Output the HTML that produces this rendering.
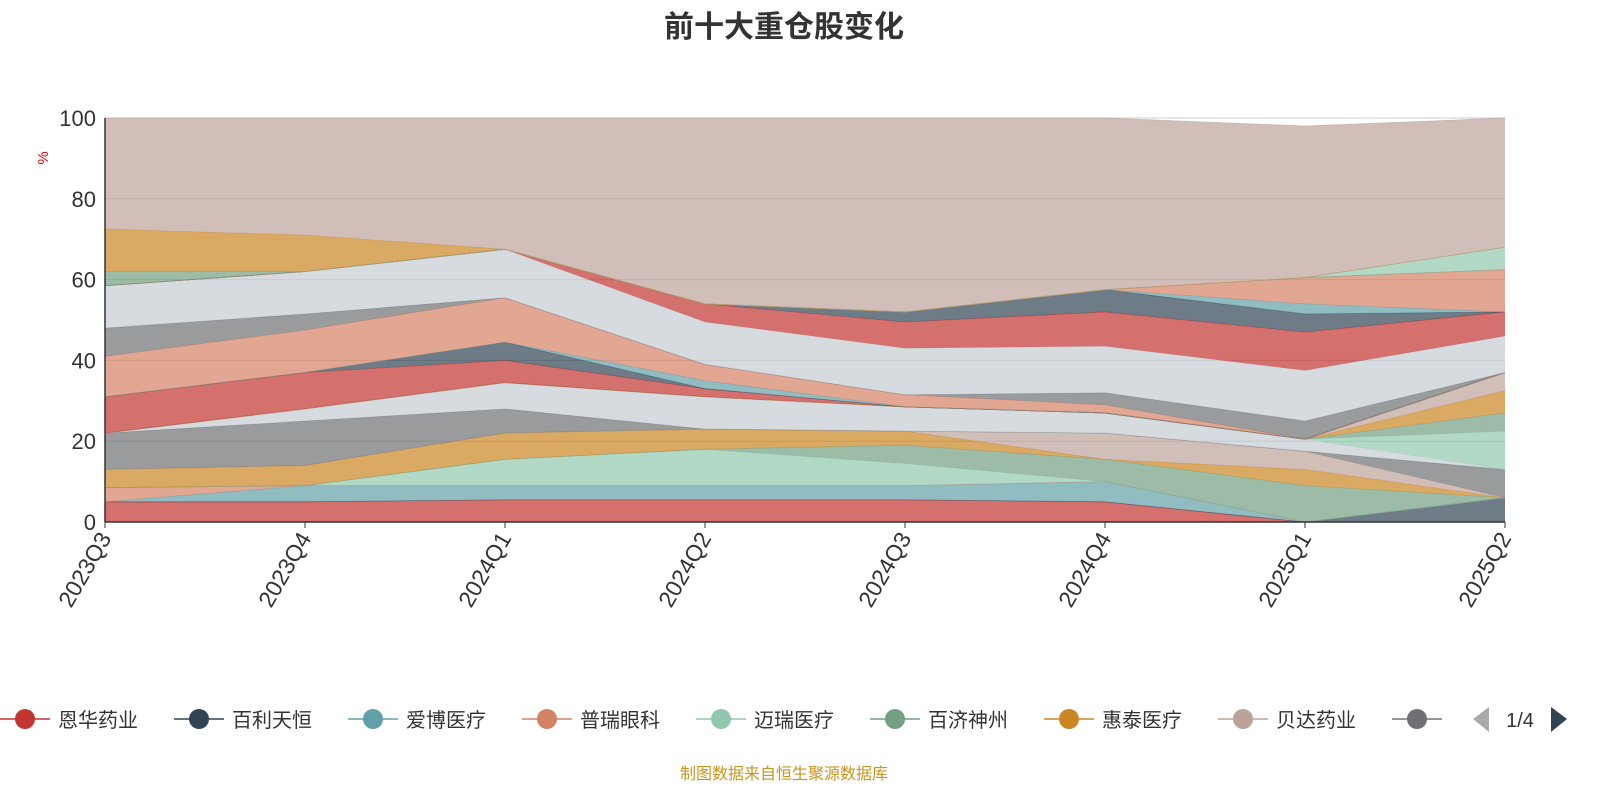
<!DOCTYPE html>
<html><head><meta charset="utf-8"><style>
body{margin:0;background:#fff;font-family:"Liberation Sans","Noto Sans CJK SC",sans-serif}
svg text{font-family:"Liberation Sans","Noto Sans CJK SC",sans-serif}
</style></head><body>
<svg id="chart" width="1600" height="800" xmlns="http://www.w3.org/2000/svg">
<text x="784" y="37" text-anchor="middle" font-size="30" font-weight="bold" fill="#333">前十大重仓股变化</text>
<text transform="translate(48,158) rotate(-90)" text-anchor="middle" font-size="15" fill="#e00">%</text>
<g id="grid"></g>
<g id="areas"></g>
<g id="axes"></g>
<g id="legend"></g>
<text x="784" y="779" text-anchor="middle" font-size="16" fill="#c8951f">制图数据来自恒生聚源数据库</text>
</svg>
<script>
const categories=["2023Q3","2023Q4","2024Q1","2024Q2","2024Q3","2024Q4","2025Q1","2025Q2"];
const yTicks=[0,20,40,60,80,100];
const seriesNames=["恩华药业","百利天恒","爱博医疗","普瑞眼科","迈瑞医疗","百济神州","惠泰医疗","贝达药业","三诺生物","华东医药","联影医疗","康方生物","新产业","信达生物","药明康德","恒瑞医药","泰格医药","爱尔眼科","智飞生物","片仔癀","科伦药业","云南白药","长春高新","迪哲医药","益方生物","开立医疗","南微医学","其他"];
const seriesColors=["#c23531","#2f4554","#61a0a8","#d48265","#91c7ae","#749f83","#ca8622","#bda29a","#6e7074","#c4ccd3","#91c7ae","#749f83","#ca8622","#bda29a","#c23531","#2f4554","#61a0a8","#d48265","#6e7074","#c4ccd3","#c23531","#2f4554","#61a0a8","#d48265","#749f83","#91c7ae","#ca8622","#bda29a"];
const v01=[5,5,5.5,5.5,5.5,5,0,0];
const v02=[0,0,0,0,0,0,0,6];
const v03=[0,4,3.5,3.5,3.5,5,0,0];
const v04=[3.5,0,0,0,0,0,0,0];
const v05=[0,0,6.5,9,5.5,0,0,0];
const v06=[0,0,0,0,4.5,5.5,9,0];
const v07=[4.5,5,6.5,5,3.5,0,4,0];
const v08=[0,0,0,0,0,6.5,4.5,0];
const v09=[9,11,6,0,0,0,0,7];
const v10=[0,3,6.5,8,6,5,3,0];
const v11=[0,0,0,0,0,0,0,9.5];
const v12=[0,0,0,0,0,0,0,4.5];
const v13=[0,0,0,0,0,0,0,5.5];
const v14=[0,0,0,0,0,0,0,4.5];
const v15=[9,9,5.5,2,0,0,0,0];
const v16=[0,0,4.5,0,0,0,0,0];
const v17=[0,0,0,2,0,0,0,0];
const v18=[10,10.5,11,4,3,2,0,0];
const v19=[7,4,0,0,0,3,4.5,0];
const v20=[10.5,10.5,12,10.5,11.5,11.5,12.5,9];
const v21=[0,0,0,4.5,6.5,8.5,9.5,6];
const v22=[0,0,0,0,2.5,5.5,4.5,0];
const v23=[0,0,0,0,0,0,2.5,0];
const v24=[0,0,0,0,0,0,6.5,10.5];
const v25=[3.5,0,0,0,0,0,0,0];
const v26=[0,0,0,0,0,0,0,5.5];
const v27=[10.5,9,0,0,0,0,0,0];
const v28=[27.5,29,32.5,46,48,42.5,37.5,32];
const seriesValues=[v01,v02,v03,v04,v05,v06,v07,v08,v09,v10,v11,v12,v13,v14,v15,v16,v17,v18,v19,v20,v21,v22,v23,v24,v25,v26,v27,v28];
const legendShown=9;

const NS="http://www.w3.org/2000/svg";
const X0=105,X1=1505,Y0=522,Y1=118;
const xS=i=>X0+i*(X1-X0)/(categories.length-1);
const yS=v=>Y0-(v/100)*(Y0-Y1);
function mk(t,a,p){const e=document.createElementNS(NS,t);for(const k in a)e.setAttribute(k,a[k]);p.appendChild(e);return e;}
const grid=document.getElementById('grid'),areas=document.getElementById('areas'),axes=document.getElementById('axes'),legend=document.getElementById('legend');
yTicks.forEach(t=>{
  if(t>0){const l=mk('line',{x1:X0,x2:X1,y1:yS(t),y2:yS(t),stroke:'#ccc','stroke-width':1},grid);
  
  }
  const tx=mk('text',{x:X0-9,y:yS(t)+8,'text-anchor':'end','font-size':22,fill:'#333'},axes);
  tx.textContent=t;
  
  
});
let base=categories.map(()=>0);
seriesValues.forEach((vals,si)=>{
  const top=base.map((b,i)=>b+vals[i]);
  let d='';
  top.forEach((v,i)=>{d+=(i?'L':'M')+xS(i)+','+yS(v);});
  for(let i=base.length-1;i>=0;i--)d+='L'+xS(i)+','+yS(base[i]);
  d+='Z';
  const p=mk('path',{d:d,fill:seriesColors[si],'fill-opacity':0.7,stroke:'none'},areas);
  
  
  let ld='';top.forEach((v,i)=>{ld+=(i?'L':'M')+xS(i)+','+yS(v);});
  const ln=mk('path',{d:ld,fill:'none',stroke:seriesColors[si],'stroke-width':0.8,'stroke-opacity':0.6},areas);
  
  
  base=top;
});
const ax=mk('line',{x1:X0,x2:X1,y1:Y0,y2:Y0,stroke:'#333','stroke-width':1.5},axes);


const ay=mk('line',{x1:X0,x2:X0,y1:Y1,y2:Y0,stroke:'#333','stroke-width':1.5},axes);


categories.forEach((c,i)=>{
  const tk=mk('line',{x1:xS(i),x2:xS(i),y1:Y0,y2:Y0+6,stroke:'#333'},axes);
  
  
  const t=mk('text',{transform:`translate(${xS(i)+7},${Y0+16}) rotate(-60)`,'text-anchor':'end','font-size':23,fill:'#333'},axes);
  t.textContent=c;
  
  
});
for(let i=0;i<legendShown;i++){
  const cx=25+i*174,cy=719;
  const g=mk('g',{},legend);
  
  
  mk('line',{x1:cx-25,x2:cx+25,y1:cy,y2:cy,stroke:seriesColors[i],'stroke-width':1.5},g);
  mk('circle',{cx:cx,cy:cy,r:10,fill:seriesColors[i]},g);
  const t=mk('text',{x:cx+33,y:cy+8,'font-size':20,fill:'#333'},g);
  t.textContent=seriesNames[i];
}
const cover=mk('rect',{x:1448,y:700,width:160,height:40,fill:'#fff'},legend);


const pl=mk('path',{d:'M1489,707 L1473,719 L1489,732 Z',fill:'#aaa'},legend);


const pt=mk('text',{x:1520,y:727,'text-anchor':'middle','font-size':20,fill:'#333'},legend);
pt.textContent='1/4';


const pr=mk('path',{d:'M1551,707 L1567,719 L1551,732 Z',fill:'#2f4554'},legend);


</script>
</body></html>
